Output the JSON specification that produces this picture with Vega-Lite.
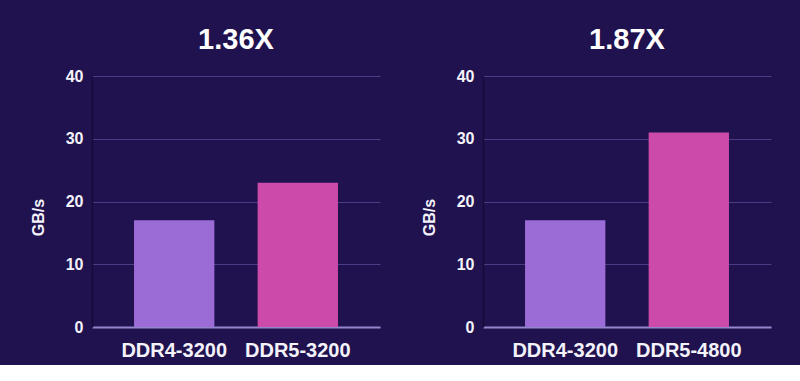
{
  "$schema": "https://vega.github.io/schema/vega-lite/v6.json",
  "background": "#20124e",
  "padding": {"left": 30, "top": 26, "right": 29, "bottom": 5},
  "spacing": 41,
  "config": {
    "view": {"stroke": null},
    "font": "Liberation Sans",
    "title": {"fontSize": 29, "fontWeight": "bold", "color": "#ffffff", "anchor": "middle", "offset": 13},
    "axisX": {
      "title": null, "labelAngle": 0, "ticks": false, "labelPadding": 13,
      "labelFontSize": 20, "labelFontWeight": "bold", "labelColor": "#f4f2fa",
      "domainColor": "#9485cf", "domainWidth": 2, "grid": false
    },
    "axisY": {
      "ticks": false, "labelPadding": 9, "labelFontSize": 16, "labelFontWeight": "bold", "labelColor": "#f4f2fa",
      "domainColor": "#150b3a", "domainWidth": 1.5, "gridColor": "#4a3d86", "gridWidth": 1,
      "titleFontSize": 16, "titleFontWeight": "bold", "titleColor": "#f4f2fa", "titlePadding": 19, "titleY": 141
    }
  },
  "datasets": {
    "left": [
      {"label": "DDR4-3200", "type": "DDR4", "gbs": 17},
      {"label": "DDR5-3200", "type": "DDR5", "gbs": 23}
    ],
    "right": [
      {"label": "DDR4-3200", "type": "DDR4", "gbs": 17},
      {"label": "DDR5-4800", "type": "DDR5", "gbs": 31}
    ]
  },
  "hconcat": [
    {
      "title": "1.36X",
      "width": 288, "height": 251,
      "data": {"name": "left"},
      "mark": {"type": "bar"},
      "encoding": {
        "x": {"field": "label", "type": "nominal", "sort": null, "scale": {"paddingInner": 0.35, "paddingOuter": 0.34}},
        "y": {"field": "gbs", "type": "quantitative", "title": "GB/s", "scale": {"domain": [0, 40]}, "axis": {"values": [0, 10, 20, 30, 40]}},
        "color": {"field": "type", "type": "nominal", "scale": {"domain": ["DDR4", "DDR5"], "range": ["#9b6bd6", "#cc4aaa"]}, "legend": null}
      }
    },
    {
      "title": "1.87X",
      "width": 288, "height": 251,
      "data": {"name": "right"},
      "mark": {"type": "bar"},
      "encoding": {
        "x": {"field": "label", "type": "nominal", "sort": null, "scale": {"paddingInner": 0.35, "paddingOuter": 0.34}},
        "y": {"field": "gbs", "type": "quantitative", "title": "GB/s", "scale": {"domain": [0, 40]}, "axis": {"values": [0, 10, 20, 30, 40]}},
        "color": {"field": "type", "type": "nominal", "scale": {"domain": ["DDR4", "DDR5"], "range": ["#9b6bd6", "#cc4aaa"]}, "legend": null}
      }
    }
  ]
}
